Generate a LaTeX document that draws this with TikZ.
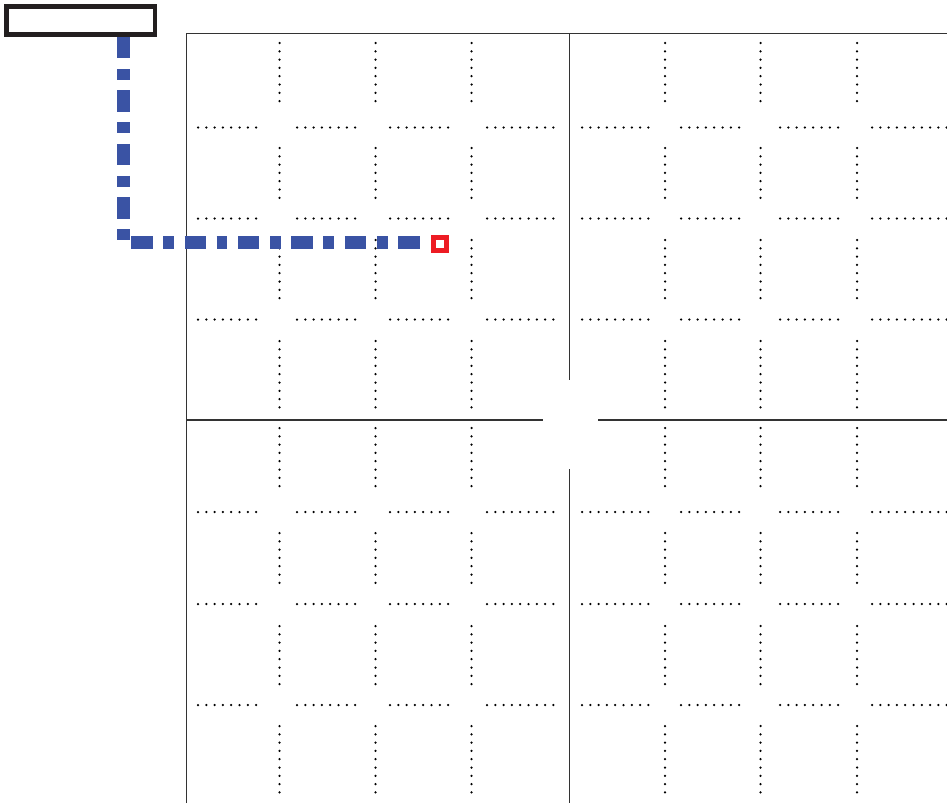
\documentclass[tikz,border=0pt]{standalone}
\definecolor{pathblue}{RGB}{58,83,164}
\definecolor{markred}{RGB}{237,28,36}
\definecolor{boxdark}{RGB}{35,31,32}
\tikzset{
 frameline/.style={line width=1.3pt, draw=black!80},
 dotline/.style={line width=2.5pt, line cap=round, dash pattern=on 0pt off 8.3pt, draw=black},
 blueline/.style={line width=13.3pt, draw=pathblue, dash pattern=on 21.3pt off 10.7pt on 10.7pt off 10.7pt},
 labelbox/.style={draw=boxdark, line width=4.7pt, minimum width=148.5pt, minimum height=28.2pt, inner sep=0pt, fill=white},
 target/.style={draw=markred, line width=4.85pt, minimum size=12.85pt, inner sep=0pt, fill=white}
}
\begin{document}
\begin{tikzpicture}[x=1pt,y=-1pt]
\useasboundingbox (0,0) rectangle (947,803);
\fill[white] (0,0) rectangle (947,803);
% frame
\draw[frameline] (186.7,803) -- (186.7,33.3) -- (947,33.3);
\draw[frameline] (569.3,33.3) -- (569.3,380);
\draw[frameline] (569.3,469) -- (569.3,803);
\draw[frameline] (186.7,420) -- (543,420);
\draw[frameline] (598,420) -- (947,420);
% vertical dotted
\foreach \x in {279.5,375.5,471.5,665,760.5,857}{
  \foreach \a/\b in {43/107,148/199,240/299,341/408,428/492,533/584,626/685,726/793}{
    \draw[dotline] (\x,\a) -- (\x,\b);
  }
}
% horizontal dotted
\foreach \y in {127.5,218.5,319.5,512,604,705}{
  \foreach \a/\b in {198/260,297/357,390/455,487/560,582/649,681/742,780/840,872/947}{
    \draw[dotline] (\a,\y) -- (\b,\y);
  }
}
% label box, target, path
\node[labelbox] (box) at (80.75,20.6) {};
\node[target] (red) at (440,244.2) {};
\coordinate (bend) at (123.3,242.7);
\draw[blueline, shorten >=6pt] (bend |- box.south) -- (bend) -- (bend -| red.west);
\end{tikzpicture}
\end{document}
